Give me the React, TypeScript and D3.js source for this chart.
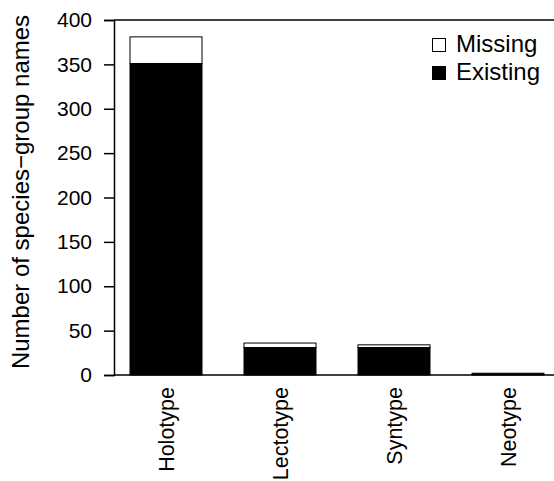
import React, { useRef, useEffect } from "react";
import * as d3 from "d3";

const categories = ["Holotype", "Lectotype", "Syntype", "Neotype"];
const existing = [351, 31, 31, 2];
const missing = [30, 5, 3, 0];
const yTicks = [0, 50, 100, 150, 200, 250, 300, 350, 400];
const legendLabels = ["Missing", "Existing"];

const App: React.FC = () => {
  const svgRef = useRef<SVGSVGElement | null>(null);

  useEffect(() => {
    const svg = d3.select(svgRef.current);
    svg.selectAll("*").remove();

    const W = 554;
    const H = 481;
    const font = "'Liberation Sans', Arial, sans-serif";
    svg.attr("width", W).attr("height", H);

    const left = 114;
    const right = 598;

    const y = d3.scaleLinear().domain([0, 400]).range([375, 20]);
    // step 114px, bars 72px wide, first bar starting at x=130
    const x = d3
      .scaleBand()
      .domain(categories)
      .range([109, 109 + 114 * 4])
      .paddingInner(0.3684)
      .paddingOuter(0.1842);

    // frame lines: top and baseline
    svg
      .append("line")
      .attr("x1", left)
      .attr("x2", right)
      .attr("y1", y(400))
      .attr("y2", y(400))
      .attr("stroke", "#000")
      .attr("stroke-width", 1.5);

    // bars
    const g = svg.append("g");
    categories.forEach((c, i) => {
      const x0 = x(c) as number;
      if (existing[i] > 0) {
        g.append("rect")
          .attr("x", x0)
          .attr("width", x.bandwidth())
          .attr("y", y(existing[i]))
          .attr("height", y(0) - y(existing[i]))
          .attr("fill", "#000")
          .attr("stroke", "#000")
          .attr("stroke-width", 1);
      }
      if (missing[i] > 0) {
        g.append("rect")
          .attr("x", x0)
          .attr("width", x.bandwidth())
          .attr("y", y(existing[i] + missing[i]))
          .attr("height", y(existing[i]) - y(existing[i] + missing[i]))
          .attr("fill", "#fff")
          .attr("stroke", "#000")
          .attr("stroke-width", 1);
      }
      g.append("text")
        .attr("transform", `translate(${x0 + x.bandwidth() / 2 + 7.5},387) rotate(-90)`)
        .attr("text-anchor", "end")
        .attr("font-family", font)
        .attr("font-size", 21.5)
        .text(c);
    });

    svg
      .append("line")
      .attr("x1", left)
      .attr("x2", right)
      .attr("y1", y(0))
      .attr("y2", y(0))
      .attr("stroke", "#000")
      .attr("stroke-width", 1.5);

    // y axis
    const ax = svg
      .append("g")
      .attr("transform", `translate(${left},0)`)
      .call(d3.axisLeft(y).tickValues(yTicks).tickSize(10).tickPadding(12));
    ax.select(".domain").attr("stroke-width", 1.5);
    ax.selectAll(".tick line").attr("stroke-width", 1.5);
    ax.selectAll(".tick text")
      .attr("font-family", font)
      .attr("font-size", 21)
      .attr("fill", "#000");

    svg
      .append("text")
      .attr("transform", `translate(29,192) rotate(-90)`)
      .attr("text-anchor", "middle")
      .attr("font-family", font)
      .attr("font-size", 24)
      .text("Number of species\u2212group names");

    // legend
    const lg = svg.append("g").attr("transform", "translate(432,38)");
    legendLabels.forEach((l, i) => {
      lg.append("rect")
        .attr("x", 0.5)
        .attr("y", i * 28 + 0.5)
        .attr("width", 13)
        .attr("height", 13)
        .attr("fill", l === "Missing" ? "#fff" : "#000")
        .attr("stroke", "#000")
        .attr("stroke-width", 1);
      lg.append("text")
        .attr("x", 24)
        .attr("y", i * 28 + 14)
        .attr("font-family", font)
        .attr("font-size", 24)
        .text(l);
    });
  }, []);

  return (
    <svg
      ref={svgRef}
      style={{ position: "absolute", left: 0, top: 0, background: "#fff" }}
    />
  );
};

export default App;
